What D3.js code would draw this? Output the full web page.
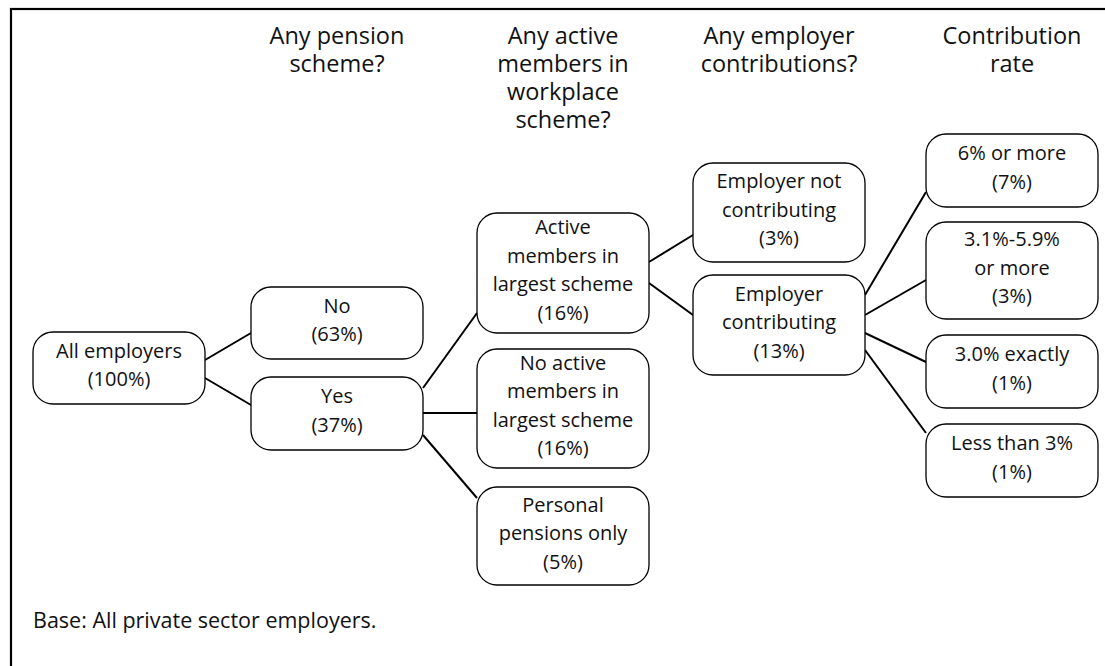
<!DOCTYPE html>
<html><head><meta charset="utf-8">
<script src="https://cdn.jsdelivr.net/npm/d3@7"></script>
<style>body{margin:0;background:#fff}svg{display:block}</style>
</head><body>
<svg id="c" width="1105" height="666"></svg>
<script>
// ---- data ----
const columnHeaders = [
  ["Any pension", "scheme?"],
  ["Any active", "members in", "workplace", "scheme?"],
  ["Any employer", "contributions?"],
  ["Contribution", "rate"]
];
const nodeIds = ["all","no","yes","active","noactive","personal","notcontrib","contrib","r6","r31","r30","rless"];
const nodeLabels = [
  ["All employers"], ["No"], ["Yes"],
  ["Active", "members in", "largest scheme"],
  ["No active", "members in", "largest scheme"],
  ["Personal", "pensions only"],
  ["Employer not", "contributing"], ["Employer", "contributing"],
  ["6% or more"], ["3.1%-5.9%", "or more"], ["3.0% exactly"], ["Less than 3%"]
];
const nodeShares = [100, 63, 37, 16, 16, 5, 3, 13, 7, 3, 1, 1];
const nodeParents = [null, "all", "all", "yes", "yes", "yes", "active", "active", "contrib", "contrib", "contrib", "contrib"];
const footnote = "Base: All private sector employers.";

// ---- layout (positions only) ----
const colLeft = [33, 251, 477, 693, 926];
const boxW = 172;
const nodeCol = {all:0,no:1,yes:1,active:2,noactive:2,personal:2,notcontrib:3,contrib:3,r6:4,r31:4,r30:4,rless:4};
const boxY = {all:[332,404],no:[287,359],yes:[377,450],active:[213,333],noactive:[349,468],personal:[487,585],
  notcontrib:[163,262],contrib:[275,375],r6:[134,207],r31:[222,319],r30:[335,408],rless:[424,497]};
// link anchors: [y on parent right edge, y on child left edge]
const linkY = {no:[360,333],yes:[378,405],active:[388,313],noactive:[413,413],personal:[435,498],
  notcontrib:[262,235],contrib:[283,315],r6:[295,192],r31:[315,280],r30:[333,362],rless:[350,433]};

const font = "'Open Sans', sans-serif";
const fs = 20, lh = 28.5, hfs = 23.5, ffs = 21.5;

const svg = d3.select("#c");
const x = d3.scaleOrdinal().domain([0,1,2,3,4]).range(colLeft);
const y = d3.scaleLinear().domain([0,666]).range([0,666]);

// frame
svg.append("rect").attr("x",11).attr("y",9).attr("width",1105).attr("height",700)
  .attr("fill","none").attr("stroke","#000").attr("stroke-width",2.2);

const nodes = nodeIds.map((id,i)=>({id, lines:[...nodeLabels[i], `(${nodeShares[i]}%)`], parent:nodeParents[i]}));

// links
svg.append("g").selectAll("line").data(nodes.filter(n=>n.parent)).join("line")
  .attr("x1", d=>x(nodeCol[d.parent])+boxW)
  .attr("y1", d=>y(linkY[d.id][0]))
  .attr("x2", d=>x(nodeCol[d.id]))
  .attr("y2", d=>y(linkY[d.id][1]))
  .attr("stroke","#000").attr("stroke-width",2);

// boxes
const g = svg.append("g").selectAll("g").data(nodes).join("g");
g.append("rect")
  .attr("x", d=>x(nodeCol[d.id]))
  .attr("y", d=>y(boxY[d.id][0]))
  .attr("width", boxW)
  .attr("height", d=>y(boxY[d.id][1])-y(boxY[d.id][0]))
  .attr("rx",20).attr("ry",20)
  .attr("fill","#fff").attr("stroke","#000").attr("stroke-width",1.3);
g.each(function(d){
  const cx = x(nodeCol[d.id]) + boxW/2;
  const cy = (y(boxY[d.id][0])+y(boxY[d.id][1]))/2;
  const n = d.lines.length;
  const t = d3.select(this).append("text").attr("text-anchor","middle")
    .attr("font-family",font).attr("font-size",fs).attr("fill","#111");
  d.lines.forEach((l,i)=>{
    t.append("tspan").attr("x",cx).attr("y", cy - (n-1)/2*lh + 4 + i*lh).text(l);
  });
});

// headers
columnHeaders.forEach((lines,i)=>{
  const cx = x(i+1)+boxW/2;
  const t = svg.append("text").attr("text-anchor","middle")
    .attr("font-family",font).attr("font-size",hfs).attr("fill","#111");
  lines.forEach((l,j)=>t.append("tspan").attr("x",cx).attr("y",44+j*28).text(l));
});

svg.append("text").attr("x",33).attr("y",628).attr("font-family",font).attr("font-size",ffs)
  .attr("fill","#111").text(footnote);
</script>
</body></html>
